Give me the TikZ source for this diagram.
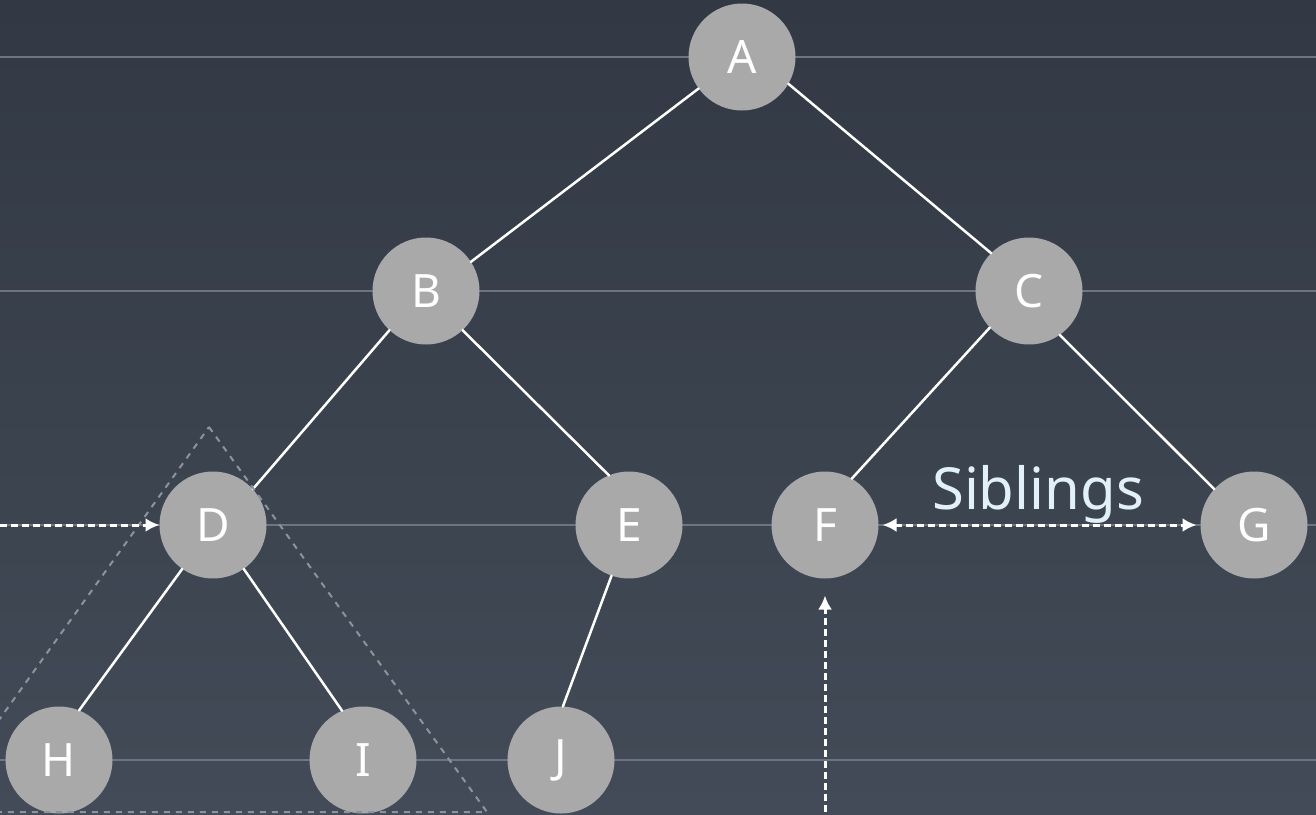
\documentclass[tikz,border=0pt]{standalone}
\usepackage{fontspec}
\setmainfont{Noto Sans}
\usetikzlibrary{arrows.meta}
\definecolor{bgtop}{HTML}{323944}
\definecolor{bgbot}{HTML}{424B57}
\definecolor{guide}{HTML}{6C7580}
\definecolor{vfill}{HTML}{A9A9A9}
\definecolor{tri}{HTML}{8C939C}
\definecolor{lbl}{HTML}{E2F1F7}
\begin{document}
\begin{tikzpicture}[x=0.5pt,y=-0.5pt,line cap=round,line join=round,>={Latex[length=7pt,width=7pt]},
  vert/.style={circle,fill=vfill,minimum size=53.5pt,inner sep=0pt,outer sep=0pt,text=white,font=\fontsize{23}{23}\selectfont},
  link/.style={white,line width=1.25pt},
  guideline/.style={guide,line width=1pt},
  subtree/.style={tri,line width=1pt,dash pattern=on 3pt off 3pt,line cap=butt},
  hint/.style={white,line width=1.5pt,dash pattern=on 3.5pt off 2pt,line cap=butt}]
\fill[top color=bgtop,bottom color=bgbot] (0,0) rectangle (1316,814);
\useasboundingbox (0,0) rectangle (1316,814);
\clip (0,0) rectangle (1316,814);
\foreach \y in {57,291,525,760} \draw[guideline] (0,\y)--(1316,\y);
\node[vert] (a) at (742,57) {A};
\node[vert] (b) at (426,291) {B};
\node[vert] (c) at (1029,291) {C};
\node[vert] (d) at (213,525) {D};
\node[vert] (e) at (629,525) {E};
\node[vert] (f) at (825,525) {F};
\node[vert] (g) at (1254,525) {G};
\node[vert] (h) at (59,760) {H};
\node[vert] (i) at (363,760) {I};
\node[vert] (j) at (561,760) {J};
\draw[link] (a.216)--(b.33) (a.330)--(c.135) (b.227)--(d.42) (b.313)--(e.112)
  (c.223)--(f.60) (c.305)--(g.138) (d.235)--(h.68) (d.305)--(i.113) (e.251)--(j.88);
\draw[subtree] (209,427)--(487,812)--(-67,812)--cycle;
\coordinate (lft) at (0,525);
\draw[hint,->] (lft)--(d);
\draw[hint,<->,shorten <=2pt,shorten >=2pt] (f)--(g);
\node[text=lbl,font=\fontsize{29}{29}\selectfont] (sib) at (1038,494) {Siblings};
\coordinate (bot) at (825,812);
\draw[hint,->] (bot)--([yshift=-8.5pt]f.south);
\end{tikzpicture}
\end{document}
